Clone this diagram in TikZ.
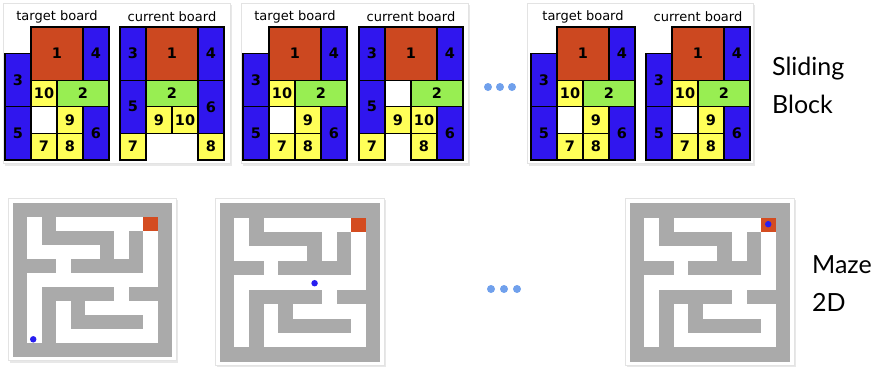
\documentclass[tikz,border=0pt]{standalone}
\usepackage{fontspec}
\newfontfamily\boardfont{DejaVu Sans}
\newfontfamily\labelfont{Lato}
\usetikzlibrary{positioning}

\definecolor{pcred}{RGB}{204,72,32}
\definecolor{pcblue}{RGB}{48,22,238}
\definecolor{pcyellow}{RGB}{255,255,88}
\definecolor{pcgreen}{RGB}{152,238,82}
\definecolor{mzgray}{RGB}{170,170,170}
\definecolor{goalred}{RGB}{212,76,32}
\definecolor{agentblue}{RGB}{40,30,240}
\definecolor{dotblue}{RGB}{112,160,236}

% one piece of a board: name, style, col, row, width, height, label
\newcommand{\blk}[7]{\node[pc,#2,minimum width={#5*26pt},minimum height={#6*26.6pt}] (#1) at ({(#3+#5/2)*26},{(#4+#6/2)*26.6}) {#7};}

% the target layout (also the solved current board)
\newcommand{\targetlayout}[1]{%
  \blk{#1p1}{redpc}{1}{0}{2}{2}{1}
  \blk{#1p4}{bluepc}{3}{0}{1}{2}{4}
  \blk{#1p3}{bluepc}{0}{1}{1}{2}{3}
  \blk{#1p10}{yelpc}{1}{2}{1}{1}{10}
  \blk{#1p2}{grnpc}{2}{2}{2}{1}{2}
  \blk{#1p5}{bluepc}{0}{3}{1}{2}{5}
  \blk{#1p9}{yelpc}{2}{3}{1}{1}{9}
  \blk{#1p6}{bluepc}{3}{3}{1}{2}{6}
  \blk{#1p7}{yelpc}{1}{4}{1}{1}{7}
  \blk{#1p8}{yelpc}{2}{4}{1}{1}{8}}

% maze on an 11x11 grid (walls gray, corridors white)
\newcommand{\mazewalls}{%
  \fill[mzgray] (0,0) rectangle (11,11);
  \foreach \r/\a/\b in {1/1/1,1/3/9,2/1/1,2/7/7,2/9/9,3/1/5,3/7/7,3/9/9,4/3/3,4/9/9,
      5/1/9,6/1/1,6/7/7,7/1/1,7/3/3,7/5/9,8/1/1,8/3/3,8/9/9,9/1/1,9/3/9}
    \fill[white] ({\a-0.01},{\r-0.01}) rectangle ({\b+1.01},{\r+1.01});
  \fill[goalred] (9,1) rectangle (10,2);}

\begin{document}
\begin{tikzpicture}[x=1pt,y=-1pt,
  card/.style={fill=white,draw=gray!22,line width=0.6pt},
  shade/.style={fill=gray!18},
  pc/.style={draw=black,line width=1.3pt,inner sep=0pt,font=\boardfont\bfseries\fontsize{14.5}{15}\selectfont},
  redpc/.style={fill=pcred},
  bluepc/.style={fill=pcblue},
  yelpc/.style={fill=pcyellow},
  grnpc/.style={fill=pcgreen},
  ttl/.style={font=\boardfont\fontsize{13}{13}\selectfont,inner sep=0pt},
  more/.style={circle,fill=dotblue,minimum size=8pt,inner sep=0pt},
  agent/.style={circle,fill=agentblue,minimum size=6.5pt,inner sep=0pt},
  lbl/.style={font=\labelfont\fontsize{25}{38}\selectfont,align=left,inner sep=0pt,anchor=west},
]
\useasboundingbox (0,0) rectangle (883,368);

% ===== TOP: sliding block =====
\fill[shade] (4.5,4.5) rectangle (232,165.5);
\draw[card] (3,3) rectangle (230,163);
\fill[shade] (242.5,4.5) rectangle (470,165.5);
\draw[card] (241,3) rectangle (468,163);
\fill[shade] (528.5,4.5) rectangle (755,165.5);
\draw[card] (527,3) rectangle (753,163);

\begin{scope}[shift={(5,27)}]
  \targetlayout{tA}
\end{scope}
\begin{scope}[shift={(120,27)}]
  \blk{cAp3}{bluepc}{0}{0}{1}{2}{3}
  \blk{cAp1}{redpc}{1}{0}{2}{2}{1}
  \blk{cAp4}{bluepc}{3}{0}{1}{2}{4}
  \blk{cAp5}{bluepc}{0}{2}{1}{2}{5}
  \blk{cAp2}{grnpc}{1}{2}{2}{1}{2}
  \blk{cAp6}{bluepc}{3}{2}{1}{2}{6}
  \blk{cAp9}{yelpc}{1}{3}{1}{1}{9}
  \blk{cAp10}{yelpc}{2}{3}{1}{1}{10}
  \blk{cAp7}{yelpc}{0}{4}{1}{1}{7}
  \blk{cAp8}{yelpc}{3}{4}{1}{1}{8}
\end{scope}
\node[ttl] (tAttl) at (57,17) {target board};
\node[ttl] (cAttl) at (172,17) {current board};

\begin{scope}[shift={(243,27)}]
  \targetlayout{tB}
\end{scope}
\begin{scope}[shift={(359,27)}]
  \blk{cBp3}{bluepc}{0}{0}{1}{2}{3}
  \blk{cBp1}{redpc}{1}{0}{2}{2}{1}
  \blk{cBp4}{bluepc}{3}{0}{1}{2}{4}
  \blk{cBp5}{bluepc}{0}{2}{1}{2}{5}
  \blk{cBp2}{grnpc}{2}{2}{2}{1}{2}
  \blk{cBp9}{yelpc}{1}{3}{1}{1}{9}
  \blk{cBp10}{yelpc}{2}{3}{1}{1}{10}
  \blk{cBp6}{bluepc}{3}{3}{1}{2}{6}
  \blk{cBp7}{yelpc}{0}{4}{1}{1}{7}
  \blk{cBp8}{yelpc}{2}{4}{1}{1}{8}
\end{scope}
\node[ttl] (tBttl) at (295,17) {target board};
\node[ttl] (cBttl) at (411,17) {current board};

\foreach \i/\x in {1/488,2/500,3/512}
  \node[more] (topdot\i) at (\x,87) {};

\begin{scope}[shift={(531,27)}]
  \targetlayout{tC}
\end{scope}
\begin{scope}[shift={(646,27)}]
  \targetlayout{cC}
\end{scope}
\node[ttl] (tCttl) at (583,17) {target board};
\node[ttl] (cCttl) at (698,17) {current board};

\node[lbl] (slidinglbl) at (772,85) {Sliding\\Block};

% ===== BOTTOM: maze 2D =====
\fill[shade] (10,200) rectangle (178,362.5);
\draw[card] (8.5,198.5) rectangle (176,360.5);
\begin{scope}[shift={(13,203.3)},x=14.45pt,y=-13.95pt]
  \mazewalls
  \node[agent] (agentA) at (1.4,9.75) {};
\end{scope}

\fill[shade] (217,200) rectangle (386,367);
\draw[card] (215.5,198.5) rectangle (384,365);
\begin{scope}[shift={(220,203.3)},x=14.55pt,y=-14.4pt]
  \mazewalls
  \node[agent] (agentB) at (6.5,5.55) {};
\end{scope}

\foreach \i/\x in {1/491,2/504,3/517}
  \node[more] (botdot\i) at (\x,289) {};

\fill[shade] (627,200) rectangle (796,367);
\draw[card] (625.5,198.5) rectangle (794,365);
\begin{scope}[shift={(630,203.3)},x=14.55pt,y=-14.4pt]
  \mazewalls
  \node[agent] (agentC) at (9.5,1.45) {};
\end{scope}

\node[lbl] (mazelbl) at (812,284) {Maze\\2D};
\end{tikzpicture}
\end{document}
